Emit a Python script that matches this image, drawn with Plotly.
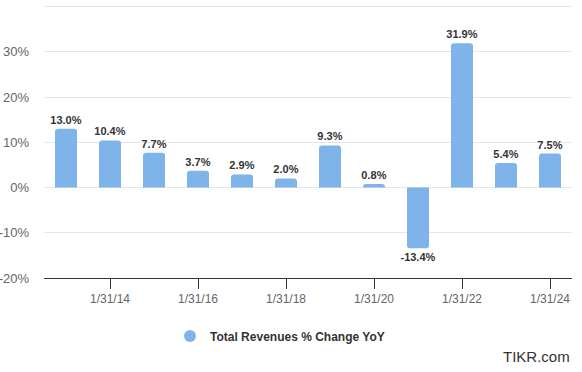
import plotly.graph_objects as go

periods = ["1/31/13", "1/31/14", "1/31/15", "1/31/16", "1/31/17", "1/31/18",
           "1/31/19", "1/31/20", "1/31/21", "1/31/22", "1/31/23", "1/31/24"]
growth = [13.0, 10.4, 7.7, 3.7, 2.9, 2.0, 9.3, 0.8, -13.4, 31.9, 5.4, 7.5]
x_ticks = ["1/31/14", "1/31/16", "1/31/18", "1/31/20", "1/31/22", "1/31/24"]
y_ticks = [-20, -10, 0, 10, 20, 30, 40]
y_labels = ["-20%", "-10%", "0%", "10%", "20%", "30%", ""]
series_name = "Total Revenues % Change YoY"

bar_color = "#7eb4ea"
font_family = "Liberation Sans, Arial, sans-serif"

fig = go.Figure()
fig.add_trace(go.Bar(
    x=periods, y=growth,
    marker=dict(color=bar_color, line=dict(width=0)),
    width=0.5,
    text=[f"{v:.1f}%" for v in growth],
    textposition="outside",
    constraintext="none",
    textfont=dict(family=font_family, size=11, color="#333333", weight="bold"),
    cliponaxis=False,
    showlegend=False,
))
fig.add_trace(go.Scatter(
    x=[None], y=[None], mode="markers", name=series_name,
    marker=dict(color=bar_color, size=13, symbol="circle"),
    showlegend=True,
))

fig.update_layout(
    width=582, height=372,
    margin=dict(l=44, r=10, t=2, b=94, autoexpand=False),
    paper_bgcolor="white", plot_bgcolor="white",
    font=dict(family=font_family, color="#666666", size=13),
    barcornerradius=3,
    legend=dict(orientation="h", x=0.447, xanchor="center", y=-0.21, yanchor="middle",
                font=dict(size=12, color="#333333", weight="bold"),
                itemsizing="constant"),
    xaxis=dict(
        type="category", range=[-0.5, 11.5], automargin=False,
        tickmode="array", tickvals=x_ticks, ticktext=x_ticks,
        showgrid=False, showline=True, linecolor="#333333", linewidth=1,
        ticks="outside", ticklen=10, tickcolor="#333333",
        tickfont=dict(size=12, color="#666666"),
        zeroline=False,
    ),
    yaxis=dict(
        range=[-20, 41], tickmode="array", tickvals=y_ticks, ticktext=y_labels,
        automargin=False,
        showgrid=True, gridcolor="#e6e6e6", gridwidth=1,
        zeroline=False, showline=False,
        ticklabelstandoff=14,
        tickfont=dict(size=13, color="#666666"),
    ),
    bargap=0.5,
)
fig.add_annotation(
    text="TIKR.com", xref="paper", yref="paper", x=1.0, xanchor="right",
    y=-0.285, yanchor="middle", showarrow=False,
    font=dict(size=15, color="#333333", family=font_family),
)
fig.write_html("out.html", config={"displayModeBar": False},
               post_script="document.body.style.margin='0';document.body.style.padding='0';")
